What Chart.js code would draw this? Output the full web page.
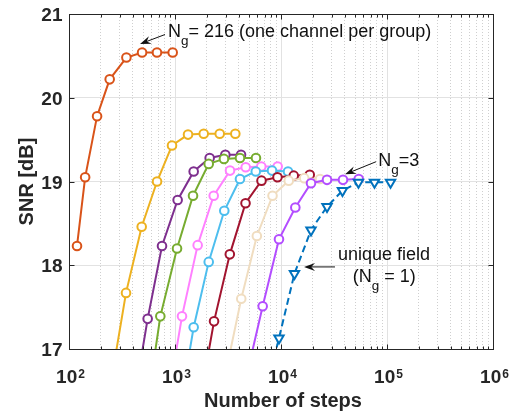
<!DOCTYPE html>
<html>
<head>
<meta charset="utf-8">
<script src="https://cdn.jsdelivr.net/npm/chart.js@4.4.1/dist/chart.umd.min.js"></script>
<style>
  html, body { margin: 0; padding: 0; background: #fff; }
  #c { display: block; }
</style>
</head>
<body>
<canvas id="c" width="527" height="412" style="width:527px;height:412px"></canvas>
<script>
const FONT = '"Liberation Sans", Arial, Helvetica, sans-serif';
const INK = "#262626";

// number of steps / SNR [dB] per curve
const stepsNg216 = [119, 142, 184, 242, 348, 489, 676, 951];
const snrNg216 = [18.23, 19.05, 19.78, 20.22, 20.48, 20.54, 20.54, 20.54];

const stepsYellow = [245, 345, 485, 677, 937, 1327, 1866, 2642, 3707];
const snrYellow = [16.55, 17.67, 18.46, 19.0, 19.43, 19.56, 19.57, 19.57, 19.57];

const stepsPurple = [393, 552, 754, 1059, 1500, 2123, 2984, 4197];
const snrPurple = [16.24, 17.36, 18.23, 18.78, 19.12, 19.28, 19.32, 19.32];

const stepsGreen = [516, 727, 1045, 1479, 2080, 2897, 4101, 5805];
const snrGreen = [16.1, 17.39, 18.2, 18.83, 19.21, 19.27, 19.28, 19.28];

const stepsPink = [828, 1164, 1636, 2318, 3303, 4645, 6515, 9301];
const snrPink = [16.28, 17.39, 18.24, 18.83, 19.13, 19.17, 19.18, 19.18];

const stepsCyan = [1067, 1500, 2080, 2917, 4101, 5780, 8225, 11648];
const snrCyan = [16.15, 17.26, 18.04, 18.65, 19.03, 19.12, 19.13, 19.12];

const stepsRed = [1660, 2335, 3289, 4627, 6547, 9266, 13188, 18670];
const snrRed = [16.28, 17.33, 18.13, 18.74, 19.01, 19.05, 19.07, 19.08];

const stepsBeige = [3001, 4217, 5918, 8318, 11830, 16560, 23340];
const snrBeige = [16.71, 17.6, 18.35, 18.83, 19.01, 19.04, 19.03];

const stepsViolet = [4777, 6716, 9570, 13650, 19190, 27170, 38450, 54100];
const snrViolet = [16.7, 17.51, 18.31, 18.69, 18.98, 19.02, 19.02, 19.03];

const stepsUnique = [6839, 9570, 13400, 19190, 27170, 38000, 53800, 76200, 108000];
const snrUnique = [16.38, 17.13, 17.9, 18.42, 18.7, 18.89, 18.99, 18.99, 18.99];

const seriesNames = ["Ng=216", "a", "b", "c", "d", "e", "f", "g", "Ng=3", "unique field"];
const seriesSteps = [stepsNg216, stepsYellow, stepsPurple, stepsGreen, stepsPink, stepsCyan, stepsRed, stepsBeige, stepsViolet, stepsUnique];
const seriesSnr = [snrNg216, snrYellow, snrPurple, snrGreen, snrPink, snrCyan, snrRed, snrBeige, snrViolet, snrUnique];
const lineColors = ["#D95319", "#EDB120", "#7E2F8E", "#77AC30", "#FF80FF", "#4DBEEE", "#A2142F", "#F0DDC0", "#B34DFF", "#0072BD"];

const xDecades = [100, 1000, 10000, 100000, 1000000];
const xExponents = ["2", "3", "4", "5", "6"];
const yTicks = [17, 18, 19, 20, 21];

// annotations, anchored in data coordinates
const notes = [
  { x: 859, y: 20.73, parts: [["N"], ["g", "sub"], ["= 216 (one channel per group)"]] },
  { x: 82800, y: 19.185, parts: [["N"], ["g", "sub"], ["=3"]] },
  { x: 34500, y: 18.063, parts: [["unique field"]] },
  { x: 47400, y: 17.8, parts: [["(N"], ["g", "sub"], [" = 1)"]] }
];
const arrows = [
  { from: [805, 20.755], to: [468, 20.642] },
  { from: [78700, 19.236], to: [40200, 19.086] },
  { from: [32300, 17.98], to: [16500, 17.98] }
];

const isDecade = (v) => xDecades.includes(v);
const xGrid = [];
xDecades.forEach((d, i) => {
  xGrid.push(d);
  if (i < xDecades.length - 1) for (let k = 2; k <= 9; k++) xGrid.push(k * d);
});

const datasets = seriesSteps.map((steps, i) => {
  const unique = i === seriesSteps.length - 1;
  return {
    label: seriesNames[i],
    data: steps.map((s, j) => ({ x: s, y: seriesSnr[i][j] })),
    borderColor: lineColors[i],
    borderWidth: 2,
    borderDash: unique ? [7, 4] : [],
    pointStyle: unique ? "triangle" : "circle",
    rotation: unique ? 180 : 0,
    pointRadius: unique ? 5.4 : 4.3,
    pointBorderWidth: 2,
    pointBackgroundColor: "#ffffff",
    pointBorderColor: lineColors[i],
    tension: 0,
    clip: 0,
    order: -i
  };
});

function drawRich(ctx, x, y, parts) {
  let cx = x;
  parts.forEach(([t, kind]) => {
    const sub = kind === "sub";
    ctx.font = (sub ? "13.5px " : "18px ") + FONT;
    ctx.fillText(t, cx, sub ? y + 8 : y);
    cx += ctx.measureText(t).width;
  });
}

function drawArrow(ctx, x0, y0, x1, y1) {
  const ang = Math.atan2(y1 - y0, x1 - x0);
  const len = 11, half = 4;
  ctx.beginPath();
  ctx.moveTo(x0, y0);
  ctx.lineTo(x1 - Math.cos(ang) * 6, y1 - Math.sin(ang) * 6);
  ctx.stroke();
  ctx.save();
  ctx.translate(x1, y1);
  ctx.rotate(ang);
  ctx.beginPath();
  ctx.moveTo(0, 0);
  ctx.lineTo(-len, -half);
  ctx.lineTo(-len * 0.65, 0);
  ctx.lineTo(-len, half);
  ctx.closePath();
  ctx.fill();
  ctx.restore();
}

const decor = {
  id: "decor",
  afterDatasetsDraw(chart) {
    const { ctx, chartArea: a, scales: { x, y } } = chart;
    ctx.save();
    // annotations
    ctx.fillStyle = "#111";
    ctx.strokeStyle = "#111";
    ctx.lineWidth = 1;
    ctx.textBaseline = "alphabetic";
    ctx.textAlign = "left";
    notes.forEach((n) => drawRich(ctx, x.getPixelForValue(n.x), y.getPixelForValue(n.y), n.parts));
    arrows.forEach((r) => drawArrow(ctx,
      x.getPixelForValue(r.from[0]), y.getPixelForValue(r.from[1]),
      x.getPixelForValue(r.to[0]), y.getPixelForValue(r.to[1])));

    // axes box
    const L = Math.round(a.left) + 0.5, R = Math.round(a.right) + 0.5;
    const T = Math.round(a.top) + 0.5, B = Math.round(a.bottom) + 0.5;
    ctx.strokeStyle = INK;
    ctx.lineWidth = 1;
    ctx.strokeRect(L, T, R - L, B - T);

    // inward tick marks
    ctx.beginPath();
    xGrid.forEach((v) => {
      const px = Math.round(x.getPixelForValue(v)) + 0.5;
      const len = isDecade(v) ? 5 : 3;
      ctx.moveTo(px, B); ctx.lineTo(px, B - len);
      ctx.moveTo(px, T); ctx.lineTo(px, T + len);
    });
    yTicks.forEach((v) => {
      const py = Math.round(y.getPixelForValue(v)) + 0.5;
      ctx.moveTo(L, py); ctx.lineTo(L + 5, py);
      ctx.moveTo(R, py); ctx.lineTo(R - 5, py);
    });
    ctx.stroke();

    // tick labels
    ctx.fillStyle = INK;
    ctx.textAlign = "right";
    ctx.font = "bold 19px " + FONT;
    yTicks.forEach((v) => ctx.fillText(String(v), L - 7, y.getPixelForValue(v) + 7));

    ctx.textAlign = "left";
    xDecades.forEach((v, i) => {
      const px = x.getPixelForValue(v);
      ctx.font = "bold 19px " + FONT;
      const wb = ctx.measureText("10").width;
      ctx.font = "bold 12px " + FONT;
      const we = ctx.measureText(xExponents[i]).width;
      const left = px - (wb + we) / 2 + 1;
      ctx.font = "bold 19px " + FONT;
      ctx.fillText("10", left, B + 33);
      ctx.font = "bold 12px " + FONT;
      ctx.fillText(xExponents[i], left + wb + 1, B + 28);
    });

    // axis titles
    ctx.font = "bold 20px " + FONT;
    ctx.textAlign = "center";
    ctx.fillText("Number of steps", (a.left + a.right) / 2 + 2, B + 57);
    ctx.save();
    ctx.translate(33, (a.top + a.bottom) / 2);
    ctx.rotate(-Math.PI / 2);
    ctx.fillText("SNR [dB]", 0, 0);
    ctx.restore();
    ctx.restore();
  }
};

new Chart(document.getElementById("c"), {
  type: "line",
  data: { datasets },
  options: {
    responsive: false,
    animation: false,
    events: [],
    layout: { padding: { left: 69, right: 34, top: 14, bottom: 63 } },
    plugins: { legend: { display: false }, tooltip: { enabled: false } },
    scales: {
      x: {
        type: "logarithmic",
        min: 100,
        max: 1000000,
        afterBuildTicks: (s) => { s.ticks = xGrid.map((v) => ({ value: v, major: isDecade(v) })); },
        ticks: { display: false },
        grid: {
          drawTicks: false,
          lineWidth: 1,
          color: (c) => (c.tick && isDecade(c.tick.value) ? "#e2e2e2" : "#cfcfcf")
        },
        border: { display: false, dash: (c) => (c.tick && isDecade(c.tick.value) ? [] : [1, 2]) }
      },
      y: {
        type: "linear",
        min: 17,
        max: 21,
        afterBuildTicks: (s) => { s.ticks = yTicks.map((v) => ({ value: v })); },
        ticks: { display: false },
        grid: { drawTicks: false, lineWidth: 1, color: "#e2e2e2" },
        border: { display: false }
      }
    }
  },
  plugins: [decor]
});
</script>
</body>
</html>
